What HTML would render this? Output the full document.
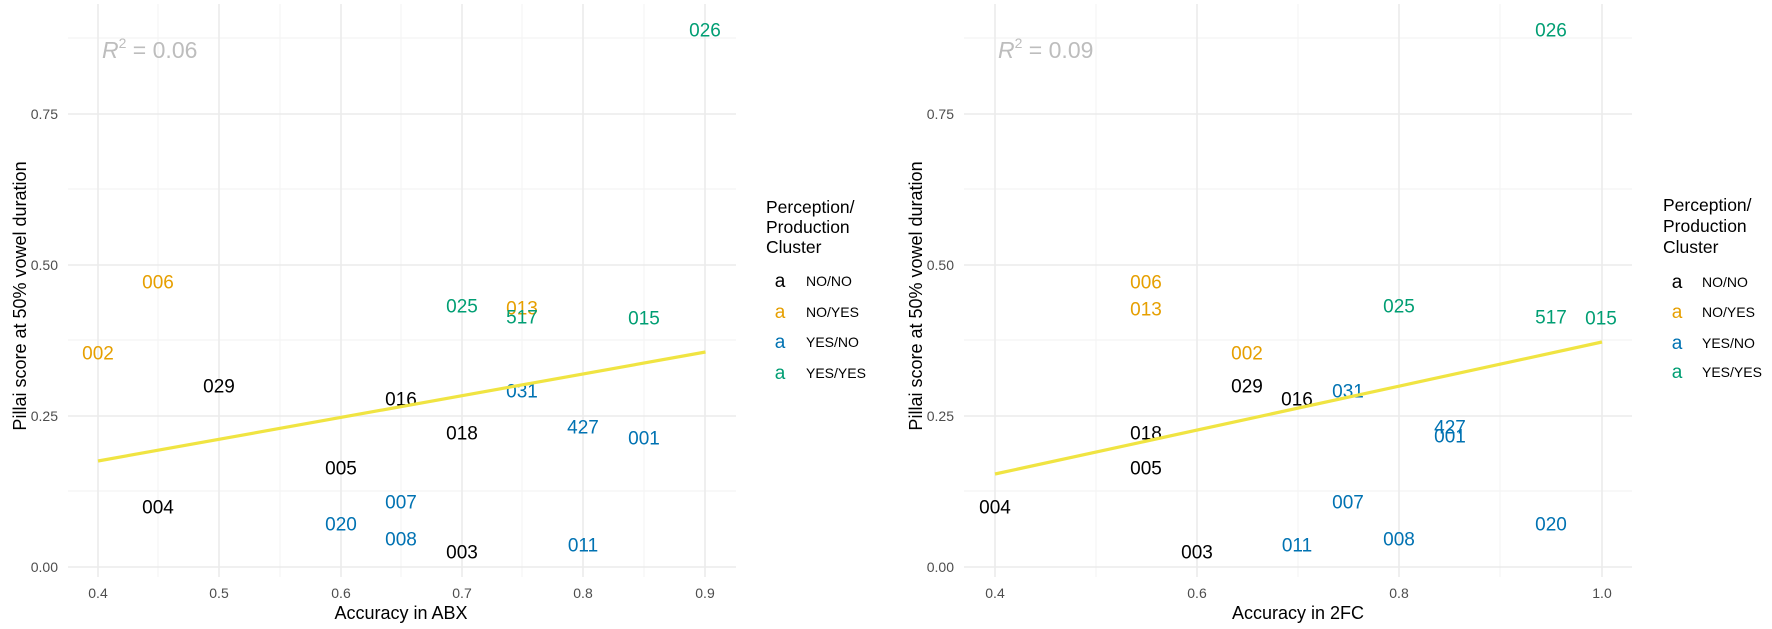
<!DOCTYPE html>
<html><head><meta charset="utf-8"><style>
html,body{margin:0;padding:0;background:#fff;}
svg{display:block;font-family:"Liberation Sans",Arial,sans-serif;}
.maj{stroke:#ebebeb;stroke-width:1.6;}
.min{stroke:#f2f2f2;stroke-width:0.9;}
.tk{font-size:14px;fill:#4d4d4d;}
.lb{font-size:19px;text-anchor:middle;dominant-baseline:central;}
.k{fill:#000}.o{fill:#E69F00}.b{fill:#0072B2}.g{fill:#009E73}
.ttl{font-size:18px;fill:#000;}
.lt{font-size:17.5px;fill:#000;}
.ll{font-size:14px;fill:#000;}
.la{font-size:19px;text-anchor:middle;}
</style></head><body>
<svg width="1772" height="629" viewBox="0 0 1772 629" xmlns="http://www.w3.org/2000/svg">
<!-- LEFT PANEL -->
<g>
<line class="min" x1="68" x2="736" y1="491" y2="491"/>
<line class="min" x1="68" x2="736" y1="340" y2="340"/>
<line class="min" x1="68" x2="736" y1="189" y2="189"/>
<line class="min" x1="68" x2="736" y1="38" y2="38"/>
<line class="min" x1="158" x2="158" y1="4" y2="577"/>
<line class="min" x1="280" x2="280" y1="4" y2="577"/>
<line class="min" x1="401" x2="401" y1="4" y2="577"/>
<line class="min" x1="522" x2="522" y1="4" y2="577"/>
<line class="min" x1="644" x2="644" y1="4" y2="577"/>
<line class="maj" x1="68" x2="736" y1="567" y2="567"/>
<line class="maj" x1="68" x2="736" y1="416" y2="416"/>
<line class="maj" x1="68" x2="736" y1="265" y2="265"/>
<line class="maj" x1="68" x2="736" y1="114" y2="114"/>
<line class="maj" x1="98" x2="98" y1="4" y2="577"/>
<line class="maj" x1="219" x2="219" y1="4" y2="577"/>
<line class="maj" x1="341" x2="341" y1="4" y2="577"/>
<line class="maj" x1="462" x2="462" y1="4" y2="577"/>
<line class="maj" x1="583" x2="583" y1="4" y2="577"/>
<line class="maj" x1="705" x2="705" y1="4" y2="577"/>
<g class="tk" text-anchor="end">
<text x="58" y="572">0.00</text><text x="58" y="421">0.25</text><text x="58" y="270">0.50</text><text x="58" y="119">0.75</text>
</g>
<g class="tk" text-anchor="middle">
<text x="98" y="598">0.4</text><text x="219" y="598">0.5</text><text x="341" y="598">0.6</text><text x="462" y="598">0.7</text><text x="583" y="598">0.8</text><text x="705" y="598">0.9</text>
</g>
<text class="ttl" x="401" y="619" text-anchor="middle">Accuracy in ABX</text>
<text class="ttl" transform="translate(26,296) rotate(-90)" text-anchor="middle">Pillai score at 50% vowel duration</text>
<text x="102" y="58" font-size="23" fill="#bdbdbd"><tspan font-style="italic">R</tspan><tspan font-size="14" dy="-10">2</tspan><tspan dy="10"> = 0.06</tspan></text>
<g class="lb">
<text class="o" x="158" y="283">006</text>
<text class="o" x="98" y="354">002</text>
<text class="k" x="219" y="387">029</text>
<text class="k" x="401" y="400">016</text>
<text class="g" x="462" y="307">025</text>
<text class="o" x="522" y="309">013</text>
<text class="g" x="522" y="318">517</text>
<text class="g" x="644" y="319">015</text>
<text class="b" x="522" y="392">031</text>
<text class="k" x="462" y="434">018</text>
<text class="b" x="583" y="428">427</text>
<text class="b" x="644" y="439">001</text>
<text class="k" x="341" y="469">005</text>
<text class="k" x="158" y="508">004</text>
<text class="b" x="401" y="503">007</text>
<text class="b" x="341" y="525">020</text>
<text class="b" x="401" y="540">008</text>
<text class="k" x="462" y="553">003</text>
<text class="b" x="583" y="546">011</text>
<text class="g" x="705" y="31">026</text>
</g>
<line x1="98" y1="461" x2="705.5" y2="352" stroke="#F0E442" stroke-width="3.2"/>
<text class="lt" x="766" y="213">Perception/</text>
<text class="lt" x="766" y="233">Production</text>
<text class="lt" x="766" y="253">Cluster</text>
<text class="la k" x="780" y="287">a</text><text class="ll" x="806" y="286">NO/NO</text>
<text class="la o" x="780" y="318">a</text><text class="ll" x="806" y="317">NO/YES</text>
<text class="la b" x="780" y="348">a</text><text class="ll" x="806" y="347">YES/NO</text>
<text class="la g" x="780" y="379">a</text><text class="ll" x="806" y="378">YES/YES</text>
</g>
<!-- RIGHT PANEL -->
<g>
<line class="min" x1="964" x2="1632" y1="491" y2="491"/>
<line class="min" x1="964" x2="1632" y1="340" y2="340"/>
<line class="min" x1="964" x2="1632" y1="189" y2="189"/>
<line class="min" x1="964" x2="1632" y1="38" y2="38"/>
<line class="min" x1="1096" x2="1096" y1="4" y2="577"/>
<line class="min" x1="1298" x2="1298" y1="4" y2="577"/>
<line class="min" x1="1500" x2="1500" y1="4" y2="577"/>
<line class="maj" x1="964" x2="1632" y1="567" y2="567"/>
<line class="maj" x1="964" x2="1632" y1="416" y2="416"/>
<line class="maj" x1="964" x2="1632" y1="265" y2="265"/>
<line class="maj" x1="964" x2="1632" y1="114" y2="114"/>
<line class="maj" x1="995" x2="995" y1="4" y2="577"/>
<line class="maj" x1="1197" x2="1197" y1="4" y2="577"/>
<line class="maj" x1="1399" x2="1399" y1="4" y2="577"/>
<line class="maj" x1="1602" x2="1602" y1="4" y2="577"/>
<g class="tk" text-anchor="end">
<text x="954" y="572">0.00</text><text x="954" y="421">0.25</text><text x="954" y="270">0.50</text><text x="954" y="119">0.75</text>
</g>
<g class="tk" text-anchor="middle">
<text x="995" y="598">0.4</text><text x="1197" y="598">0.6</text><text x="1399" y="598">0.8</text><text x="1602" y="598">1.0</text>
</g>
<text class="ttl" x="1298" y="619" text-anchor="middle">Accuracy in 2FC</text>
<text class="ttl" transform="translate(922,296) rotate(-90)" text-anchor="middle">Pillai score at 50% vowel duration</text>
<text x="998" y="58" font-size="23" fill="#bdbdbd"><tspan font-style="italic">R</tspan><tspan font-size="14" dy="-10">2</tspan><tspan dy="10"> = 0.09</tspan></text>
<g class="lb">
<text class="g" x="1551" y="31">026</text>
<text class="o" x="1146" y="283">006</text>
<text class="o" x="1146" y="310">013</text>
<text class="g" x="1399" y="307">025</text>
<text class="g" x="1551" y="318">517</text>
<text class="g" x="1601" y="319">015</text>
<text class="o" x="1247" y="354">002</text>
<text class="k" x="1247" y="387">029</text>
<text class="k" x="1297" y="400">016</text>
<text class="b" x="1348" y="392">031</text>
<text class="k" x="1146" y="434">018</text>
<text class="b" x="1450" y="428">427</text>
<text class="b" x="1450" y="437">001</text>
<text class="k" x="1146" y="469">005</text>
<text class="k" x="995" y="508">004</text>
<text class="b" x="1348" y="503">007</text>
<text class="b" x="1551" y="525">020</text>
<text class="b" x="1297" y="546">011</text>
<text class="b" x="1399" y="540">008</text>
<text class="k" x="1197" y="553">003</text>
</g>
<line x1="995" y1="474" x2="1602" y2="342" stroke="#F0E442" stroke-width="3.2"/>
<text class="lt" x="1663" y="211">Perception/</text>
<text class="lt" x="1663" y="232">Production</text>
<text class="lt" x="1663" y="253">Cluster</text>
<text class="la k" x="1677" y="288">a</text><text class="ll" x="1702" y="287">NO/NO</text>
<text class="la o" x="1677" y="318">a</text><text class="ll" x="1702" y="317">NO/YES</text>
<text class="la b" x="1677" y="349">a</text><text class="ll" x="1702" y="348">YES/NO</text>
<text class="la g" x="1677" y="378">a</text><text class="ll" x="1702" y="377">YES/YES</text>
</g>
</svg>
</body></html>
